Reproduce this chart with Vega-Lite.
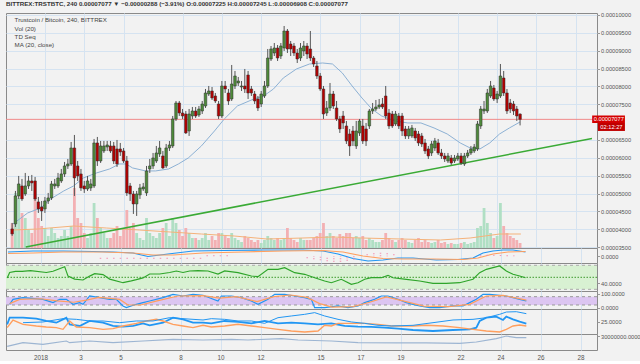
{
"$schema":"https://vega.github.io/schema/vega-lite/v6.json",
"background":"#f2f2f2",
"padding":{"left":3,"top":1,"right":0,"bottom":0},
"title":{"text":"BITTREX:TRSTBTC, 240  0.00007077 ▼ −0.00000288 (−3.91%)  O:0.00007225  H:0.00007245  L:0.00006908  C:0.00007077","anchor":"start","frame":"group","fontSize":6.2,"font":"Liberation Sans","fontWeight":"bold","color":"#333","offset":4},
"spacing":0,
"bounds":"flush",
"config":{
 "font":"Liberation Sans",
 "view":{"stroke":"#8a8a8a","strokeWidth":1,"fill":"#f2f2f2"},
 "axis":{"labelFont":"Liberation Sans","labelFontSize":5.7,"labelColor":"#555","tickColor":"#999","tickSize":2.5,"labelPadding":1,"domain":false,"gridColor":"#d5e3f1","gridWidth":1,"title":null,"labelOverlap":false},
 "axisY":{"labelOverlap":false},
 "axisRight":{"labelOverlap":false},
 "text":{"font":"Liberation Sans","fontSize":6.2,"color":"#444","align":"left","baseline":"middle"}
},
"datasets":{
"candles":[
{"t":-40,"o":4008,"h":4176,"l":3812,"c":3868,"v":2500000},
{"t":-36,"o":4148,"h":5072,"l":4064,"c":4932,"v":5500000},
{"t":-32,"o":4932,"h":5492,"l":4848,"c":5268,"v":5000000},
{"t":-28,"o":5212,"h":5408,"l":4792,"c":4848,"v":3500000},
{"t":-24,"o":4988,"h":5576,"l":4932,"c":5212,"v":3000000},
{"t":-20,"o":5212,"h":5492,"l":5128,"c":5352,"v":1800000},
{"t":-16,"o":5352,"h":5520,"l":5072,"c":5296,"v":1500000},
{"t":-12,"o":5352,"h":5464,"l":4792,"c":4848,"v":5000000},
{"t":-8,"o":4764,"h":4904,"l":4456,"c":4568,"v":3000000},
{"t":-4,"o":4624,"h":4792,"l":4232,"c":4512,"v":2200000},
{"t":0,"o":4568,"h":4904,"l":4456,"c":4792,"v":2000000},
{"t":4,"o":4792,"h":5016,"l":4708,"c":4876,"v":1200000},
{"t":8,"o":4876,"h":5352,"l":4820,"c":5268,"v":2000000},
{"t":12,"o":5212,"h":5408,"l":5128,"c":5268,"v":1500000},
{"t":16,"o":5212,"h":5576,"l":5156,"c":5436,"v":1000000},
{"t":20,"o":5352,"h":5688,"l":5296,"c":5548,"v":1200000},
{"t":24,"o":5548,"h":5884,"l":5464,"c":5772,"v":1800000},
{"t":28,"o":5772,"h":5968,"l":5688,"c":5828,"v":1200000},
{"t":32,"o":5828,"h":6444,"l":5772,"c":6276,"v":2200000},
{"t":36,"o":6276,"h":6640,"l":4932,"c":5436,"v":6000000},
{"t":40,"o":5772,"h":5912,"l":5352,"c":5492,"v":3000000},
{"t":44,"o":5548,"h":5688,"l":5072,"c":5156,"v":2500000},
{"t":48,"o":5212,"h":5352,"l":5016,"c":5128,"v":1500000},
{"t":52,"o":5128,"h":5492,"l":5072,"c":5352,"v":1000000},
{"t":56,"o":5156,"h":5408,"l":5072,"c":5268,"v":1500000},
{"t":60,"o":5212,"h":6528,"l":5156,"c":6416,"v":4500000},
{"t":64,"o":6416,"h":6584,"l":5772,"c":5912,"v":3000000},
{"t":68,"o":5912,"h":6472,"l":5856,"c":6332,"v":2000000},
{"t":72,"o":6192,"h":6472,"l":6136,"c":6332,"v":1500000},
{"t":76,"o":6304,"h":6472,"l":6192,"c":6360,"v":1000000},
{"t":80,"o":6332,"h":6472,"l":6136,"c":6192,"v":1000000},
{"t":84,"o":6332,"h":6444,"l":5828,"c":5912,"v":1500000},
{"t":88,"o":6248,"h":6500,"l":5744,"c":5828,"v":2200000},
{"t":92,"o":6248,"h":6416,"l":6052,"c":6164,"v":1200000},
{"t":96,"o":6192,"h":6276,"l":5856,"c":5912,"v":2000000},
{"t":100,"o":5912,"h":6052,"l":4932,"c":5016,"v":3800000},
{"t":104,"o":5212,"h":5296,"l":4792,"c":4988,"v":2000000},
{"t":108,"o":4988,"h":5072,"l":4428,"c":4708,"v":2500000},
{"t":112,"o":4708,"h":5072,"l":4372,"c":4988,"v":1500000},
{"t":116,"o":4960,"h":5268,"l":4848,"c":5156,"v":1000000},
{"t":120,"o":5128,"h":5296,"l":5072,"c":5184,"v":800000},
{"t":124,"o":5016,"h":5772,"l":4932,"c":5632,"v":3000000},
{"t":128,"o":5688,"h":5968,"l":5576,"c":5772,"v":1500000},
{"t":132,"o":5772,"h":6136,"l":5688,"c":5996,"v":1200000},
{"t":136,"o":5912,"h":6332,"l":5856,"c":6136,"v":1000000},
{"t":140,"o":6108,"h":6472,"l":6024,"c":6276,"v":1500000},
{"t":144,"o":6052,"h":6192,"l":5688,"c":5716,"v":2000000},
{"t":148,"o":5772,"h":6388,"l":5716,"c":6276,"v":2500000},
{"t":152,"o":6276,"h":6472,"l":6192,"c":6360,"v":1200000},
{"t":156,"o":6332,"h":7172,"l":6276,"c":7088,"v":3000000},
{"t":160,"o":7088,"h":7592,"l":7032,"c":7536,"v":2500000},
{"t":164,"o":7536,"h":7592,"l":7172,"c":7256,"v":1800000},
{"t":168,"o":7256,"h":7368,"l":7088,"c":7172,"v":1200000},
{"t":172,"o":7228,"h":7312,"l":6668,"c":6696,"v":2000000},
{"t":176,"o":6752,"h":7368,"l":6612,"c":7228,"v":1500000},
{"t":180,"o":7172,"h":7424,"l":7088,"c":7312,"v":1000000},
{"t":184,"o":7312,"h":7424,"l":7116,"c":7172,"v":1000000},
{"t":188,"o":7200,"h":7452,"l":7144,"c":7368,"v":800000},
{"t":192,"o":7312,"h":7592,"l":7228,"c":7508,"v":1000000},
{"t":196,"o":7452,"h":7928,"l":7396,"c":7816,"v":1500000},
{"t":200,"o":7788,"h":8012,"l":7732,"c":7872,"v":800000},
{"t":204,"o":7872,"h":7984,"l":7620,"c":7676,"v":1200000},
{"t":208,"o":7732,"h":7816,"l":7536,"c":7592,"v":800000},
{"t":212,"o":7508,"h":7592,"l":7088,"c":7172,"v":1500000},
{"t":216,"o":7172,"h":8152,"l":7116,"c":8012,"v":1500000},
{"t":220,"o":8012,"h":8152,"l":7816,"c":7928,"v":1200000},
{"t":224,"o":7816,"h":7928,"l":7480,"c":7592,"v":1000000},
{"t":228,"o":7648,"h":8600,"l":7592,"c":8068,"v":1500000},
{"t":232,"o":8012,"h":8432,"l":7928,"c":8292,"v":1000000},
{"t":236,"o":8096,"h":8264,"l":8012,"c":8152,"v":800000},
{"t":240,"o":7984,"h":8152,"l":7872,"c":8012,"v":600000},
{"t":244,"o":8012,"h":8488,"l":7816,"c":7928,"v":1200000},
{"t":248,"o":8320,"h":8432,"l":7648,"c":7816,"v":1000000},
{"t":252,"o":7928,"h":8012,"l":7732,"c":7816,"v":800000},
{"t":256,"o":7788,"h":7872,"l":7508,"c":7592,"v":600000},
{"t":260,"o":7648,"h":7732,"l":7312,"c":7396,"v":800000},
{"t":264,"o":7508,"h":7872,"l":7424,"c":7788,"v":500000},
{"t":268,"o":7732,"h":8152,"l":7676,"c":8012,"v":800000},
{"t":272,"o":8012,"h":9048,"l":7956,"c":8796,"v":1200000},
{"t":276,"o":8768,"h":9132,"l":8712,"c":9048,"v":1000000},
{"t":280,"o":8936,"h":9216,"l":8852,"c":9076,"v":800000},
{"t":284,"o":9076,"h":9160,"l":8712,"c":8796,"v":1000000},
{"t":288,"o":8852,"h":9216,"l":8768,"c":9132,"v":800000},
{"t":292,"o":9076,"h":9692,"l":8992,"c":9552,"v":1000000},
{"t":296,"o":9552,"h":9608,"l":8936,"c":9048,"v":2000000},
{"t":300,"o":9188,"h":9272,"l":8852,"c":9048,"v":1000000},
{"t":304,"o":9132,"h":9216,"l":8852,"c":8936,"v":800000},
{"t":308,"o":8936,"h":9048,"l":8656,"c":8768,"v":600000},
{"t":312,"o":8796,"h":9216,"l":8712,"c":9076,"v":1000000},
{"t":316,"o":8992,"h":9272,"l":8852,"c":9132,"v":800000},
{"t":320,"o":9132,"h":9216,"l":8768,"c":8908,"v":800000},
{"t":324,"o":9048,"h":9552,"l":8712,"c":8796,"v":800000},
{"t":328,"o":8796,"h":8852,"l":8544,"c":8628,"v":1000000},
{"t":332,"o":8572,"h":8712,"l":8208,"c":8292,"v":1200000},
{"t":336,"o":8292,"h":8376,"l":7872,"c":7928,"v":1500000},
{"t":340,"o":7928,"h":8012,"l":7088,"c":7228,"v":2500000},
{"t":344,"o":7256,"h":7592,"l":7172,"c":7396,"v":1200000},
{"t":348,"o":7396,"h":8096,"l":7312,"c":7788,"v":1500000},
{"t":352,"o":7788,"h":7872,"l":7368,"c":7452,"v":1200000},
{"t":356,"o":7396,"h":7592,"l":7032,"c":7088,"v":1000000},
{"t":360,"o":7088,"h":7172,"l":6696,"c":6808,"v":1400000},
{"t":364,"o":7172,"h":7312,"l":6808,"c":6976,"v":1200000},
{"t":368,"o":6892,"h":7032,"l":6388,"c":6472,"v":1500000},
{"t":372,"o":6668,"h":6808,"l":6052,"c":6332,"v":1500000},
{"t":376,"o":6752,"h":6892,"l":6332,"c":6472,"v":1000000},
{"t":380,"o":6332,"h":7032,"l":6248,"c":6752,"v":1200000},
{"t":384,"o":6696,"h":7088,"l":6612,"c":7032,"v":1000000},
{"t":388,"o":6892,"h":7088,"l":6388,"c":6472,"v":1200000},
{"t":392,"o":6808,"h":6976,"l":6332,"c":6472,"v":800000},
{"t":396,"o":6892,"h":7368,"l":6808,"c":7312,"v":1000000},
{"t":400,"o":7312,"h":7536,"l":7228,"c":7368,"v":800000},
{"t":404,"o":7368,"h":7620,"l":7312,"c":7424,"v":600000},
{"t":408,"o":7424,"h":7648,"l":7368,"c":7480,"v":600000},
{"t":412,"o":7508,"h":7676,"l":7368,"c":7424,"v":800000},
{"t":416,"o":7732,"h":8012,"l":7088,"c":7172,"v":1500000},
{"t":420,"o":7256,"h":7368,"l":6808,"c":6892,"v":1000000},
{"t":424,"o":7228,"h":7312,"l":6836,"c":6892,"v":800000},
{"t":428,"o":6948,"h":7312,"l":6892,"c":7228,"v":600000},
{"t":432,"o":7172,"h":7256,"l":6808,"c":6892,"v":800000},
{"t":436,"o":7172,"h":7256,"l":6612,"c":6752,"v":1000000},
{"t":440,"o":6808,"h":6892,"l":6528,"c":6612,"v":800000},
{"t":444,"o":6612,"h":6892,"l":6528,"c":6808,"v":600000},
{"t":448,"o":6612,"h":6920,"l":6556,"c":6836,"v":500000},
{"t":452,"o":6752,"h":6836,"l":6472,"c":6556,"v":800000},
{"t":456,"o":6668,"h":6752,"l":6332,"c":6416,"v":1000000},
{"t":460,"o":6612,"h":6696,"l":6304,"c":6388,"v":600000},
{"t":464,"o":6416,"h":6528,"l":6108,"c":6192,"v":800000},
{"t":468,"o":6248,"h":6332,"l":5968,"c":6052,"v":600000},
{"t":472,"o":6136,"h":6472,"l":6052,"c":6388,"v":500000},
{"t":476,"o":6276,"h":6556,"l":6192,"c":6472,"v":600000},
{"t":480,"o":6416,"h":6528,"l":6080,"c":6136,"v":800000},
{"t":484,"o":6136,"h":6248,"l":5968,"c":6052,"v":500000},
{"t":488,"o":6052,"h":6136,"l":5884,"c":5968,"v":600000},
{"t":492,"o":5912,"h":6136,"l":5856,"c":6052,"v":400000},
{"t":496,"o":5996,"h":6080,"l":5800,"c":5856,"v":500000},
{"t":500,"o":5912,"h":6080,"l":5856,"c":5996,"v":400000},
{"t":504,"o":5968,"h":6136,"l":5912,"c":6052,"v":400000},
{"t":508,"o":6052,"h":6136,"l":5800,"c":5856,"v":500000},
{"t":512,"o":5828,"h":6136,"l":5772,"c":6052,"v":600000},
{"t":516,"o":6052,"h":6220,"l":5996,"c":6136,"v":400000},
{"t":520,"o":6136,"h":6332,"l":6080,"c":6248,"v":500000},
{"t":524,"o":6192,"h":6388,"l":6136,"c":6304,"v":600000},
{"t":528,"o":6248,"h":7032,"l":6192,"c":6948,"v":2000000},
{"t":532,"o":6892,"h":7452,"l":6808,"c":7368,"v":2200000},
{"t":536,"o":7312,"h":7592,"l":7228,"c":7368,"v":4000000},
{"t":540,"o":7312,"h":7928,"l":7256,"c":7816,"v":2500000},
{"t":544,"o":7732,"h":8152,"l":7676,"c":8012,"v":1500000},
{"t":548,"o":7956,"h":8040,"l":7592,"c":7648,"v":1000000},
{"t":552,"o":7648,"h":7872,"l":7536,"c":7788,"v":1200000},
{"t":556,"o":7732,"h":8628,"l":7676,"c":8292,"v":4500000},
{"t":560,"o":8236,"h":8432,"l":7732,"c":7816,"v":2200000},
{"t":564,"o":7816,"h":7928,"l":7228,"c":7312,"v":1500000},
{"t":568,"o":7536,"h":7648,"l":7256,"c":7368,"v":1200000},
{"t":572,"o":7508,"h":7592,"l":7200,"c":7312,"v":1000000},
{"t":576,"o":7368,"h":7452,"l":7032,"c":7172,"v":800000},
{"t":580,"o":7225,"h":7245,"l":6908,"c":7077,"v":500000}
],
"ma":[{"t":-39,"p":4148},{"t":-21,"p":4456},{"t":-5,"p":4596},{"t":7,"p":4848},{"t":23,"p":5072},{"t":35,"p":5212},{"t":47,"p":5436},{"t":63,"p":5576},{"t":79,"p":5688},{"t":91,"p":5828},{"t":99,"p":5828},{"t":107,"p":5716},{"t":123,"p":5632},{"t":135,"p":5632},{"t":151,"p":5688},{"t":163,"p":5828},{"t":175,"p":5996},{"t":191,"p":6332},{"t":207,"p":6752},{"t":219,"p":7088},{"t":235,"p":7452},{"t":255,"p":7648},{"t":267,"p":7732},{"t":279,"p":7928},{"t":291,"p":8236},{"t":307,"p":8488},{"t":323,"p":8628},{"t":339,"p":8656},{"t":351,"p":8628},{"t":363,"p":8376},{"t":375,"p":8012},{"t":387,"p":7676},{"t":399,"p":7368},{"t":411,"p":7172},{"t":427,"p":7032},{"t":443,"p":6976},{"t":459,"p":6976},{"t":475,"p":6836},{"t":491,"p":6668},{"t":507,"p":6416},{"t":519,"p":6276},{"t":531,"p":6248},{"t":543,"p":6416},{"t":555,"p":6668},{"t":567,"p":6836},{"t":580,"p":7004}],
"vma":[{"t":-39,"v":1800000},{"t":-9,"v":1900000},{"t":35,"v":2200000},{"t":75,"v":2000000},{"t":115,"v":1800000},{"t":153,"v":1600000},{"t":191,"v":1400000},{"t":231,"v":1200000},{"t":271,"v":900000},{"t":315,"v":1000000},{"t":351,"v":1100000},{"t":387,"v":1000000},{"t":435,"v":900000},{"t":483,"v":800000},{"t":519,"v":1000000},{"t":555,"v":1400000},{"t":581,"v":1400000}],
"trend":[{"t":-23.4,"p":3502},{"t":667.8,"p":6541}],
"last":[{"p":7077,"label":"0.00007077","timer":"02:12:27"}],
"macd":[
{"t":-39,"k":"MACD","v":86},{"t":-9,"k":"MACD","v":106},{"t":27,"k":"MACD","v":106},{"t":63,"k":"MACD","v":96},{"t":87,"k":"MACD","v":86},{"t":111,"k":"MACD","v":66},{"t":129,"k":"MACD","v":-4},{"t":153,"k":"MACD","v":46},{"t":183,"k":"MACD","v":106},{"t":219,"k":"MACD","v":116},{"t":267,"k":"MACD","v":126},{"t":315,"k":"MACD","v":126},{"t":339,"k":"MACD","v":106},{"t":357,"k":"MACD","v":46},{"t":375,"k":"MACD","v":-44},{"t":393,"k":"MACD","v":-94},{"t":411,"k":"MACD","v":-74},{"t":429,"k":"MACD","v":-34},{"t":447,"k":"MACD","v":-34},{"t":475,"k":"MACD","v":-74},{"t":501,"k":"MACD","v":-64},{"t":519,"k":"MACD","v":-34},{"t":531,"k":"MACD","v":66},{"t":543,"k":"MACD","v":106},{"t":555,"k":"MACD","v":126},{"t":567,"k":"MACD","v":126},{"t":582,"k":"MACD","v":86},
{"t":-39,"k":"Signal","v":56},{"t":-9,"k":"Signal","v":66},{"t":27,"k":"Signal","v":86},{"t":75,"k":"Signal","v":86},{"t":111,"k":"Signal","v":66},{"t":135,"k":"Signal","v":26},{"t":159,"k":"Signal","v":26},{"t":195,"k":"Signal","v":66},{"t":243,"k":"Signal","v":86},{"t":291,"k":"Signal","v":106},{"t":339,"k":"Signal","v":116},{"t":363,"k":"Signal","v":86},{"t":387,"k":"Signal","v":6},{"t":411,"k":"Signal","v":-44},{"t":435,"k":"Signal","v":-54},{"t":471,"k":"Signal","v":-54},{"t":507,"k":"Signal","v":-64},{"t":525,"k":"Signal","v":-34},{"t":543,"k":"Signal","v":46},{"t":561,"k":"Signal","v":86},{"t":582,"k":"Signal","v":96}
],
"hist":[{"t":72,"v":-50},{"t":80,"v":-50},{"t":88,"v":-50},{"t":96,"v":-50},{"t":104,"v":-50},{"t":112,"v":-50},{"t":120,"v":-50},{"t":128,"v":-50},{"t":136,"v":-50},{"t":144,"v":-50},{"t":152,"v":-50},{"t":160,"v":-50},{"t":168,"v":-50},{"t":176,"v":-50},{"t":184,"v":-50},{"t":192,"v":-50},{"t":200,"v":20},{"t":208,"v":20},{"t":216,"v":20},{"t":224,"v":20},{"t":320,"v":-40},{"t":328,"v":-60},{"t":336,"v":-80},{"t":344,"v":-100},{"t":352,"v":-110},{"t":360,"v":-110},{"t":368,"v":-90},{"t":376,"v":-70},{"t":392,"v":40},{"t":400,"v":60},{"t":408,"v":70},{"t":416,"v":60},{"t":424,"v":40},{"t":528,"v":20},{"t":536,"v":30},{"t":544,"v":30},{"t":552,"v":25},{"t":560,"v":20},{"t":568,"v":15}],
"rsi":[{"t":-40,"v":49},{"t":-37,"v":58},{"t":-30,"v":60},{"t":-22,"v":60},{"t":-12,"v":61},{"t":7,"v":58},{"t":15,"v":60},{"t":29,"v":67.7},{"t":33,"v":52},{"t":41,"v":47},{"t":51,"v":45.5},{"t":59,"v":52},{"t":65,"v":56},{"t":75,"v":54.5},{"t":83,"v":47},{"t":99,"v":41},{"t":109,"v":44},{"t":115,"v":46},{"t":123,"v":49},{"t":131,"v":55.5},{"t":143,"v":55.5},{"t":155,"v":58},{"t":163,"v":60.5},{"t":171,"v":58},{"t":179,"v":60.5},{"t":189,"v":61},{"t":201,"v":60.5},{"t":213,"v":55.5},{"t":221,"v":60.5},{"t":237,"v":57.7},{"t":253,"v":52.2},{"t":261,"v":51},{"t":273,"v":63.3},{"t":285,"v":63.3},{"t":293,"v":66},{"t":305,"v":57.7},{"t":317,"v":55},{"t":329,"v":49.3},{"t":341,"v":43.8},{"t":349,"v":41},{"t":361,"v":46.7},{"t":373,"v":38.3},{"t":381,"v":41},{"t":389,"v":46.7},{"t":397,"v":49.3},{"t":409,"v":49.3},{"t":417,"v":53.3},{"t":423,"v":49.3},{"t":439,"v":46.7},{"t":455,"v":43.8},{"t":471,"v":40},{"t":487,"v":40},{"t":503,"v":41},{"t":519,"v":46.7},{"t":527,"v":57.7},{"t":535,"v":63.3},{"t":543,"v":66},{"t":551,"v":68.8},{"t":559,"v":60.5},{"t":567,"v":55},{"t":575,"v":52.2},{"t":582,"v":49.3}],
"rsiLevels":[{"lo":30,"mid":50,"hi":70}],
"stochLevels":[{"lo":20,"hi":80}],
"stoch":[
{"t":-37,"k":"K","v":25},{"t":-33,"k":"K","v":61},{"t":-21,"k":"K","v":73},{"t":3,"k":"K","v":61},{"t":15,"k":"K","v":37},{"t":23,"k":"K","v":61},{"t":31,"k":"K","v":61},{"t":39,"k":"K","v":25},{"t":47,"k":"K","v":37},{"t":51,"k":"K","v":25},{"t":59,"k":"K","v":85},{"t":71,"k":"K","v":73},{"t":83,"k":"K","v":61},{"t":91,"k":"K","v":61},{"t":99,"k":"K","v":13},{"t":103,"k":"K","v":1},{"t":115,"k":"K","v":25},{"t":123,"k":"K","v":37},{"t":131,"k":"K","v":49},{"t":147,"k":"K","v":73},{"t":159,"k":"K","v":97},{"t":171,"k":"K","v":85},{"t":183,"k":"K","v":97},{"t":195,"k":"K","v":90},{"t":213,"k":"K","v":49},{"t":217,"k":"K","v":85},{"t":229,"k":"K","v":85},{"t":241,"k":"K","v":73},{"t":253,"k":"K","v":49},{"t":261,"k":"K","v":25},{"t":273,"k":"K","v":61},{"t":281,"k":"K","v":97},{"t":293,"k":"K","v":97},{"t":305,"k":"K","v":85},{"t":317,"k":"K","v":73},{"t":325,"k":"K","v":61},{"t":329,"k":"K","v":1},{"t":341,"k":"K","v":1},{"t":357,"k":"K","v":13},{"t":369,"k":"K","v":1},{"t":381,"k":"K","v":13},{"t":389,"k":"K","v":37},{"t":401,"k":"K","v":61},{"t":409,"k":"K","v":85},{"t":417,"k":"K","v":85},{"t":429,"k":"K","v":61},{"t":439,"k":"K","v":37},{"t":447,"k":"K","v":25},{"t":455,"k":"K","v":13},{"t":467,"k":"K","v":1},{"t":479,"k":"K","v":1},{"t":495,"k":"K","v":13},{"t":507,"k":"K","v":13},{"t":515,"k":"K","v":37},{"t":523,"k":"K","v":61},{"t":531,"k":"K","v":97},{"t":539,"k":"K","v":97},{"t":551,"k":"K","v":90},{"t":559,"k":"K","v":85},{"t":567,"k":"K","v":73},{"t":575,"k":"K","v":61},{"t":583,"k":"K","v":49},
{"t":-37,"k":"D","v":30},{"t":-25,"k":"D","v":60},{"t":0,"k":"D","v":65},{"t":20,"k":"D","v":50},{"t":40,"k":"D","v":40},{"t":55,"k":"D","v":55},{"t":70,"k":"D","v":75},{"t":95,"k":"D","v":60},{"t":105,"k":"D","v":20},{"t":120,"k":"D","v":20},{"t":140,"k":"D","v":50},{"t":165,"k":"D","v":85},{"t":195,"k":"D","v":88},{"t":215,"k":"D","v":70},{"t":235,"k":"D","v":80},{"t":260,"k":"D","v":45},{"t":280,"k":"D","v":80},{"t":300,"k":"D","v":92},{"t":320,"k":"D","v":75},{"t":335,"k":"D","v":30},{"t":350,"k":"D","v":5},{"t":375,"k":"D","v":8},{"t":395,"k":"D","v":40},{"t":415,"k":"D","v":78},{"t":435,"k":"D","v":50},{"t":460,"k":"D","v":12},{"t":490,"k":"D","v":8},{"t":515,"k":"D","v":25},{"t":535,"k":"D","v":85},{"t":555,"k":"D","v":90},{"t":583,"k":"D","v":55}
],
"dmi":[
{"t":-40,"k":"+DI","v":20.2},{"t":-37,"k":"+DI","v":32.3},{"t":-21,"k":"+DI","v":32.3},{"t":-5,"k":"+DI","v":30.5},{"t":7,"k":"+DI","v":26.3},{"t":19,"k":"+DI","v":23.2},{"t":27,"k":"+DI","v":29.3},{"t":31,"k":"+DI","v":32.3},{"t":35,"k":"+DI","v":20.2},{"t":47,"k":"+DI","v":17.2},{"t":59,"k":"+DI","v":26.3},{"t":75,"k":"+DI","v":23.2},{"t":87,"k":"+DI","v":17.2},{"t":99,"k":"+DI","v":16},{"t":111,"k":"+DI","v":17.2},{"t":123,"k":"+DI","v":22},{"t":131,"k":"+DI","v":18.4},{"t":147,"k":"+DI","v":23.2},{"t":159,"k":"+DI","v":32.3},{"t":171,"k":"+DI","v":29.3},{"t":183,"k":"+DI","v":23.2},{"t":195,"k":"+DI","v":23.2},{"t":205,"k":"+DI","v":22},{"t":221,"k":"+DI","v":26.3},{"t":237,"k":"+DI","v":24.5},{"t":253,"k":"+DI","v":22},{"t":269,"k":"+DI","v":26.3},{"t":285,"k":"+DI","v":22},{"t":301,"k":"+DI","v":23.2},{"t":317,"k":"+DI","v":22},{"t":333,"k":"+DI","v":20.2},{"t":349,"k":"+DI","v":22},{"t":365,"k":"+DI","v":17.2},{"t":381,"k":"+DI","v":16},{"t":397,"k":"+DI","v":15.4},{"t":413,"k":"+DI","v":14.2},{"t":429,"k":"+DI","v":12.3},{"t":447,"k":"+DI","v":9.9},{"t":471,"k":"+DI","v":8.1},{"t":495,"k":"+DI","v":9.9},{"t":515,"k":"+DI","v":11.1},{"t":523,"k":"+DI","v":14.2},{"t":527,"k":"+DI","v":26.3},{"t":535,"k":"+DI","v":32.3},{"t":547,"k":"+DI","v":34.2},{"t":555,"k":"+DI","v":28.1},{"t":559,"k":"+DI","v":34.2},{"t":567,"k":"+DI","v":29.3},{"t":575,"k":"+DI","v":25},{"t":583,"k":"+DI","v":21.4},
{"t":-40,"k":"-DI","v":14.2},{"t":-33,"k":"-DI","v":28.1},{"t":-21,"k":"-DI","v":20.2},{"t":-5,"k":"-DI","v":17.2},{"t":7,"k":"-DI","v":15.4},{"t":19,"k":"-DI","v":14.2},{"t":27,"k":"-DI","v":11.1},{"t":35,"k":"-DI","v":26.3},{"t":43,"k":"-DI","v":15.4},{"t":59,"k":"-DI","v":14.2},{"t":75,"k":"-DI","v":11.1},{"t":87,"k":"-DI","v":12.3},{"t":99,"k":"-DI","v":17.2},{"t":115,"k":"-DI","v":22},{"t":127,"k":"-DI","v":26.3},{"t":139,"k":"-DI","v":29.3},{"t":147,"k":"-DI","v":26.3},{"t":159,"k":"-DI","v":20.2},{"t":171,"k":"-DI","v":17.2},{"t":183,"k":"-DI","v":14.2},{"t":195,"k":"-DI","v":18.4},{"t":205,"k":"-DI","v":15.4},{"t":221,"k":"-DI","v":17.2},{"t":237,"k":"-DI","v":20.2},{"t":253,"k":"-DI","v":17.2},{"t":269,"k":"-DI","v":14.2},{"t":285,"k":"-DI","v":11.1},{"t":301,"k":"-DI","v":8.1},{"t":317,"k":"-DI","v":6.3},{"t":333,"k":"-DI","v":8.1},{"t":341,"k":"-DI","v":18.4},{"t":349,"k":"-DI","v":17.2},{"t":357,"k":"-DI","v":22},{"t":373,"k":"-DI","v":22},{"t":389,"k":"-DI","v":22},{"t":405,"k":"-DI","v":20.2},{"t":421,"k":"-DI","v":17.2},{"t":447,"k":"-DI","v":17.2},{"t":463,"k":"-DI","v":18.4},{"t":483,"k":"-DI","v":17.2},{"t":503,"k":"-DI","v":14.2},{"t":519,"k":"-DI","v":11.1},{"t":535,"k":"-DI","v":8.1},{"t":551,"k":"-DI","v":6.3},{"t":559,"k":"-DI","v":11.1},{"t":567,"k":"-DI","v":17.2},{"t":575,"k":"-DI","v":19},{"t":583,"k":"-DI","v":17.2},
{"t":-21,"k":"ADX","v":23.2},{"t":3,"k":"ADX","v":24.5},{"t":27,"k":"ADX","v":30.5},{"t":43,"k":"ADX","v":29.3},{"t":59,"k":"ADX","v":26.3},{"t":75,"k":"ADX","v":26.3},{"t":95,"k":"ADX","v":23.2},{"t":115,"k":"ADX","v":26.3},{"t":135,"k":"ADX","v":26.3},{"t":155,"k":"ADX","v":32.3},{"t":171,"k":"ADX","v":30.5},{"t":195,"k":"ADX","v":28.1},{"t":205,"k":"ADX","v":30.5},{"t":221,"k":"ADX","v":29.3},{"t":237,"k":"ADX","v":26.3},{"t":253,"k":"ADX","v":26.3},{"t":269,"k":"ADX","v":22},{"t":285,"k":"ADX","v":32.3},{"t":301,"k":"ADX","v":35.4},{"t":317,"k":"ADX","v":38.4},{"t":329,"k":"ADX","v":41.5},{"t":341,"k":"ADX","v":35.4},{"t":357,"k":"ADX","v":29.3},{"t":373,"k":"ADX","v":24.5},{"t":389,"k":"ADX","v":22},{"t":405,"k":"ADX","v":18.4},{"t":421,"k":"ADX","v":17.2},{"t":447,"k":"ADX","v":18.4},{"t":471,"k":"ADX","v":23.2},{"t":495,"k":"ADX","v":28.1},{"t":519,"k":"ADX","v":29.3},{"t":535,"k":"ADX","v":32.3},{"t":551,"k":"ADX","v":38.4},{"t":559,"k":"ADX","v":42.6},{"t":571,"k":"ADX","v":43.2},{"t":583,"k":"ADX","v":39.6}
],
"obv":[{"t":-40,"v":4000000},{"t":-21,"v":13300000},{"t":3,"v":9200000},{"t":31,"v":17500000},{"t":35,"v":13300000},{"t":59,"v":17500000},{"t":87,"v":13300000},{"t":123,"v":17500000},{"t":159,"v":21700000},{"t":195,"v":20000000},{"t":229,"v":21700000},{"t":249,"v":20000000},{"t":289,"v":23300000},{"t":309,"v":20000000},{"t":349,"v":17500000},{"t":381,"v":13300000},{"t":429,"v":13000000},{"t":463,"v":13000000},{"t":503,"v":11700000},{"t":523,"v":15000000},{"t":547,"v":23300000},{"t":559,"v":30000000},{"t":571,"v":25800000},{"t":583,"v":25800000}]
},
"vconcat":[
{
 "width":591,"height":235,
 "layer":[
  {"layer":[
   {"data":{"name":"candles"},"mark":{"type":"bar","width":2.8},
    "encoding":{"x":{"field":"t","type":"quantitative","scale":{"domain":[-41.4,667.8],"nice":false,"zero":false},"axis":{"values":[0,48,96,168,216,264,336,384,432,504,552,600,648],"labels":false,"ticks":false,"grid":true}},
     "y":{"field":"v","type":"quantitative","scale":{"domain":[0,23500000],"nice":false},"axis":null},
     "color":{"condition":{"test":"datum.c >= datum.o","value":"#b0dfc4"},"value":"#f3b0b3"}}},
   {"data":{"name":"vma"},"mark":{"type":"line","color":"#f5b27a","strokeWidth":1},
    "encoding":{"x":{"field":"t","type":"quantitative"},"y":{"field":"v","type":"quantitative","scale":{"domain":[0,23500000],"nice":false},"axis":null}}}
  ]},
  {"layer":[
   {"data":{"name":"trend"},"mark":{"type":"line","color":"#3aaa35","strokeWidth":1.5},
    "encoding":{"x":{"field":"t","type":"quantitative"},"y":{"field":"p","type":"quantitative","scale":{"domain":[3474,10056],"nice":false,"zero":false},
      "axis":{"orient":"right","values":[3500,4000,4500,5000,5500,6000,6500,7500,8000,8500,9000,9500,10000],"labelExpr":"format(datum.value/100000000,'.8f')","grid":true,"ticks":true,"labelOverlap":false,"labelBound":false}}}},
   {"data":{"name":"ma"},"mark":{"type":"line","color":"#8db1d4","strokeWidth":1},
    "encoding":{"x":{"field":"t","type":"quantitative"},"y":{"field":"p","type":"quantitative","axis":{"orient":"right","values":[3500,4000,4500,5000,5500,6000,6500,7500,8000,8500,9000,9500,10000],"labelExpr":"format(datum.value/100000000,'.8f')","grid":true,"ticks":true,"labelOverlap":false,"labelBound":false}}}},
   {"data":{"name":"last"},"mark":{"type":"rule","color":"#f08a8a","strokeWidth":1},
    "encoding":{"y":{"field":"p","type":"quantitative","axis":{"orient":"right","values":[3500,4000,4500,5000,5500,6000,6500,7500,8000,8500,9000,9500,10000],"labelExpr":"format(datum.value/100000000,'.8f')","grid":true,"ticks":true,"labelOverlap":false,"labelBound":false}}}},
   {"data":{"name":"candles"},"mark":{"type":"rule","color":"#555","strokeWidth":1},
    "encoding":{"x":{"field":"t","type":"quantitative"},"y":{"field":"l","type":"quantitative","axis":{"orient":"right","values":[3500,4000,4500,5000,5500,6000,6500,7500,8000,8500,9000,9500,10000],"labelExpr":"format(datum.value/100000000,'.8f')","grid":true,"ticks":true,"labelOverlap":false,"labelBound":false}},"y2":{"field":"h"}}},
   {"data":{"name":"candles"},"mark":{"type":"bar","width":2.6,"stroke":"#2e2e2e","strokeWidth":0.5},
    "encoding":{"x":{"field":"t","type":"quantitative"},"y":{"field":"o","type":"quantitative","axis":{"orient":"right","values":[3500,4000,4500,5000,5500,6000,6500,7500,8000,8500,9000,9500,10000],"labelExpr":"format(datum.value/100000000,'.8f')","grid":true,"ticks":true,"labelOverlap":false,"labelBound":false}},"y2":{"field":"c"},
     "color":{"condition":{"test":"datum.c >= datum.o","value":"#4e8a3a"},"value":"#b50000"}}},
   {"data":{"name":"last"},"mark":{"type":"rect","color":"#d40000","clip":false},
    "encoding":{"x":{"datum":668},"x2":{"datum":708},"y":{"datum":7186,"type":"quantitative","axis":{"orient":"right","values":[3500,4000,4500,5000,5500,6000,6500,7500,8000,8500,9000,9500,10000],"labelExpr":"format(datum.value/100000000,'.8f')","grid":true,"ticks":true,"labelOverlap":false,"labelBound":false}},"y2":{"datum":6976}}},
   {"data":{"name":"last"},"mark":{"type":"rect","color":"#c00000","clip":false},
    "encoding":{"x":{"datum":675},"x2":{"datum":708},"y":{"datum":6976,"type":"quantitative","axis":{"orient":"right","values":[3500,4000,4500,5000,5500,6000,6500,7500,8000,8500,9000,9500,10000],"labelExpr":"format(datum.value/100000000,'.8f')","grid":true,"ticks":true,"labelOverlap":false,"labelBound":false}},"y2":{"datum":6752}}},
   {"data":{"name":"last"},"mark":{"type":"text","color":"white","fontSize":5.7,"clip":false},
    "encoding":{"x":{"datum":670},"y":{"field":"p","type":"quantitative","axis":{"orient":"right","values":[3500,4000,4500,5000,5500,6000,6500,7500,8000,8500,9000,9500,10000],"labelExpr":"format(datum.value/100000000,'.8f')","grid":true,"ticks":true,"labelOverlap":false,"labelBound":false}},"text":{"field":"label"}}},
   {"data":{"name":"last"},"mark":{"type":"text","color":"white","fontSize":5.7,"clip":false},
    "encoding":{"x":{"datum":678},"y":{"datum":6864,"type":"quantitative","axis":{"orient":"right","values":[3500,4000,4500,5000,5500,6000,6500,7500,8000,8500,9000,9500,10000],"labelExpr":"format(datum.value/100000000,'.8f')","grid":true,"ticks":true,"labelOverlap":false,"labelBound":false}},"text":{"field":"timer"}}},
   {"data":{"values":[{"label":"Trustcoin / Bitcoin, 240, BITTREX|Vol (20)|TD Seq|MA (20, close)"}]},"mark":{"type":"text","baseline":"top","lineBreak":"|","lineHeight":8.1,"fontSize":6.2},
    "encoding":{"x":{"datum":-37},"y":{"datum":9930,"type":"quantitative","axis":{"orient":"right","values":[3500,4000,4500,5000,5500,6000,6500,7500,8000,8500,9000,9500,10000],"labelExpr":"format(datum.value/100000000,'.8f')","grid":true,"ticks":true,"labelOverlap":false,"labelBound":false}},"text":{"field":"label"}}}
  ]}
 ],
 "resolve":{"scale":{"y":"independent"}}
},
{
 "width":591,"height":15,
 "encoding":{"x":{"field":"t","type":"quantitative","scale":{"domain":[-41.4,667.8],"nice":false,"zero":false},"axis":{"values":[0,48,96,168,216,264,336,384,432,504,552,600,648],"labels":false,"ticks":false,"grid":true}}},
 "layer":[
  {"data":{"name":"macd"},"mark":{"type":"line","strokeWidth":1.2},
   "encoding":{
    "y":{"field":"v","type":"quantitative","scale":{"domain":[-134,166],"nice":false,"zero":false},"axis":{"orient":"right","values":[0],"format":".4f","grid":false,"ticks":true}},
    "color":{"field":"k","type":"nominal","scale":{"domain":["MACD","Signal"],"range":["#2196f3","#ff9f5e"]},"legend":null}}},
  {"data":{"name":"hist"},"mark":{"type":"rule","color":"#f48fb1","strokeWidth":1.5,"strokeDash":[1,1.5]},
   "encoding":{"y":{"field":"v","type":"quantitative"},"y2":{"datum":0}}},
  {"data":{"values":[{"label":"MACD (12, 26, close, 9)"}]},"mark":{"type":"text"},
   "encoding":{"x":{"datum":-37},"y":{"datum":6},"text":{"field":"label"}}}
 ]
},
{
 "width":591,"height":28,
 "encoding":{"x":{"field":"t","type":"quantitative","scale":{"domain":[-41.4,667.8],"nice":false,"zero":false},"axis":{"values":[0,48,96,168,216,264,336,384,432,504,552,600,648],"labels":false,"ticks":false,"grid":true}}},
 "layer":[
  {"data":{"name":"rsiLevels"},"mark":{"type":"rect","color":"#d8f1d2"},
   "encoding":{"x":null,"y":{"field":"lo","type":"quantitative","scale":{"domain":[27.2,73.8],"nice":false,"zero":false},"axis":{"orient":"right","values":[40],"format":".4f","grid":false,"ticks":true}},"y2":{"field":"hi"}}},
  {"data":{"name":"rsiLevels"},"mark":{"type":"rule","color":"#aaa","strokeDash":[3,3],"strokeWidth":1},"encoding":{"x":null,"y":{"field":"lo","type":"quantitative"}}},
  {"data":{"name":"rsiLevels"},"mark":{"type":"rule","color":"#aaa","strokeDash":[3,3],"strokeWidth":1},"encoding":{"x":null,"y":{"field":"hi","type":"quantitative"}}},
  {"data":{"name":"rsiLevels"},"mark":{"type":"rule","color":"#3c9a2c","strokeDash":[1.5,1.5],"strokeWidth":1},"encoding":{"x":null,"y":{"field":"mid","type":"quantitative"}}},
  {"data":{"name":"rsi"},"mark":{"type":"line","color":"#2ea52a","strokeWidth":1.2},"encoding":{"y":{"field":"v","type":"quantitative"}}},
  {"data":{"values":[{"label":"RSI (14, close)"}]},"mark":{"type":"text"},
   "encoding":{"x":{"datum":-37},"y":{"datum":50.5},"text":{"field":"label"}}}
 ]
},
{
 "width":591,"height":18,
 "encoding":{"x":{"field":"t","type":"quantitative","scale":{"domain":[-41.4,667.8],"nice":false,"zero":false},"axis":{"values":[0,48,96,168,216,264,336,384,432,504,552,600,648],"labels":false,"ticks":false,"grid":true}}},
 "layer":[
  {"data":{"name":"stochLevels"},"mark":{"type":"rect","color":"#dcc5f1"},
   "encoding":{"x":null,"y":{"field":"lo","type":"quantitative","scale":{"domain":[-8.9,121],"nice":false,"zero":false},"axis":{"orient":"right","values":[0,100],"format":".4f","grid":false,"ticks":true}},"y2":{"field":"hi"}}},
  {"data":{"name":"stochLevels"},"mark":{"type":"rule","color":"#999","strokeDash":[3,3],"strokeWidth":1},"encoding":{"x":null,"y":{"field":"lo","type":"quantitative"}}},
  {"data":{"name":"stochLevels"},"mark":{"type":"rule","color":"#999","strokeDash":[3,3],"strokeWidth":1},"encoding":{"x":null,"y":{"field":"hi","type":"quantitative"}}},
  {"data":{"name":"stoch"},"mark":{"type":"line","strokeWidth":1.2},
   "encoding":{"y":{"field":"v","type":"quantitative"},"color":{"field":"k","type":"nominal","scale":{"domain":["K","D"],"range":["#2196f3","#ff9f5e"]},"legend":null}}},
  {"data":{"values":[{"label":"Stoch (14, 3, 1)"}]},"mark":{"type":"text"},
   "encoding":{"x":{"datum":-37},"y":{"datum":61},"text":{"field":"label"}}}
 ]
},
{
 "width":591,"height":25,
 "encoding":{"x":{"field":"t","type":"quantitative","scale":{"domain":[-41.4,667.8],"nice":false,"zero":false},"axis":{"values":[0,48,96,168,216,264,336,384,432,504,552,600,648],"labels":false,"ticks":false,"grid":true}}},
 "layer":[
  {"data":{"name":"dmi"},"mark":{"type":"line"},
   "encoding":{
    "y":{"field":"v","type":"quantitative","scale":{"domain":[2.6,48.1],"nice":false,"zero":false},"axis":{"orient":"right","values":[25],"format":".4f","grid":false,"ticks":true}},
    "color":{"field":"k","type":"nominal","scale":{"domain":["+DI","-DI","ADX"],"range":["#1e88e5","#ffad78","#f48fb1"]},"legend":null},
    "strokeWidth":{"field":"k","type":"nominal","scale":{"domain":["+DI","-DI","ADX"],"range":[1.8,1,1.2]},"legend":null}}},
  {"data":{"values":[{"label":"DMI (14, 14)"}]},"mark":{"type":"text"},
   "encoding":{"x":{"datum":-37},"y":{"datum":32.3},"text":{"field":"label"}}}
 ]
},
{
 "width":591,"height":16,
 "encoding":{"x":{"field":"t","type":"quantitative","scale":{"domain":[-41.4,667.8],"nice":false,"zero":false},"axis":{"values":[0,48,96,168,216,264,336,384,432,504,552,600,648],"labelExpr":"datum.value == 0 ? '2018' : toString(datum.value/24+1)","ticks":false,"grid":true,"labelPadding":4,"labelFontSize":6.3}}},
 "layer":[
  {"data":{"name":"obv"},"mark":{"type":"line","color":"#9db5d2","strokeWidth":1.2},
   "encoding":{"y":{"field":"v","type":"quantitative","scale":{"domain":[-5000000,35000000],"nice":false,"zero":false},"axis":{"orient":"right","values":[30000000],"format":".4f","grid":false,"ticks":true}}}},
  {"data":{"values":[{"label":"OBV"}]},"mark":{"type":"text"},
   "encoding":{"x":{"datum":-37},"y":{"datum":11750000},"text":{"field":"label"}}}
 ]
}
]
}
